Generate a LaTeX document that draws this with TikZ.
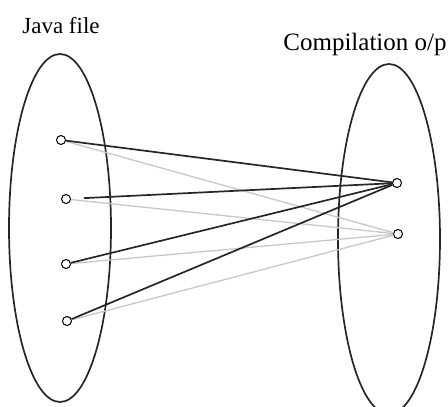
\documentclass[tikz,border=0pt]{standalone}
\usepackage{fontspec}
\setmainfont{Liberation Serif}
\begin{document}
\begin{tikzpicture}[x=1pt,y=-1pt,
  port/.style={circle,draw,line width=1pt,minimum size=9pt,inner sep=0pt,fill=white},
  setline/.style={line width=1.7pt,draw=black!85},
  link/.style={line width=1.7pt,draw=black!85},
  faint/.style={line width=1.3pt,draw=black!22},
  title/.style={anchor=base,inner sep=0pt,font=\fontsize{23}{23}\selectfont}]
\clip (0,0) rectangle (448,407);
% sets
\draw[setline] (60,228) ellipse [x radius=51, y radius=174];
\draw[setline] (389,239) ellipse [x radius=51, y radius=175];
% titles
\node[title] (jf) at (61,33) {Java file};
\node[title] (co) at (365,50) {\resizebox{163pt}{!}{Compilation o/p}};
% ports
\node[port] (a1) at (61,140) {};
\node[port] (a2) at (66,199) {};
\node[port] (a3) at (66,264) {};
\node[port] (a4) at (67,321) {};
\node[port] (b1) at (397,183) {};
\node[port] (b2) at (398,234) {};
% gray links
\draw[faint] (a1) -- (b2);
\draw[faint] (a2) -- (b2);
\draw[faint] (a3) -- (b2);
\draw[faint] (a4) -- (b2);
% black links
\draw[link] (a1) -- (b1);
\draw[link,shorten <=13pt] (a2) -- (b1);
\draw[link] (a3) -- (b1);
\draw[link] (a4) -- (b1);
\end{tikzpicture}
\end{document}
